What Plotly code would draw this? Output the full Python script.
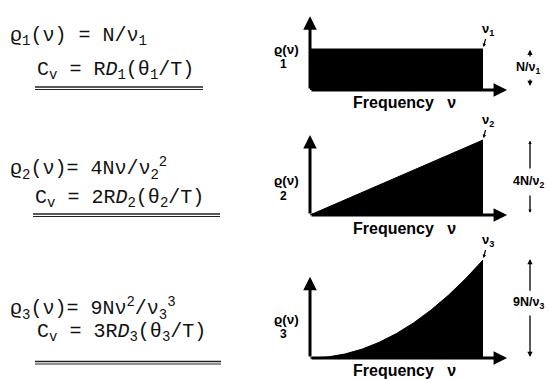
import plotly.graph_objects as go

W, H = 549, 379

# ---------------- data ----------------
freq1 = [0.0, 1.0]
rho1 = [1.0, 1.0]
freq2 = [0.0, 1.0]
rho2 = [0.0, 1.0]
freq3 = [0.0, 0.1, 0.2, 0.3, 0.4, 0.5, 0.6, 0.7, 0.8, 0.9, 1.0]
rho3 = [0.0, 0.01, 0.04, 0.09, 0.16, 0.25, 0.36, 0.49, 0.64, 0.81, 1.0]

eq_rho = ["ϱ<sub>1</sub>(ν) = N/ν<sub>1</sub>",
          "ϱ<sub>2</sub>(ν)= 4Nν/ν<sub>2</sub><sup>2</sup>",
          "ϱ<sub>3</sub>(ν)= 9Nν<sup>2</sup>/ν<sub>3</sub><sup>3</sup>"]
eq_cv = ["C<sub>v</sub> = R<i>D</i><sub>1</sub>(θ<sub>1</sub>/T)",
         "C<sub>v</sub> = 2R<i>D</i><sub>2</sub>(θ<sub>2</sub>/T)",
         "C<sub>v</sub> = 3R<i>D</i><sub>3</sub>(θ<sub>3</sub>/T)"]
cutoff_labels = ["ν<sub>1</sub>", "ν<sub>2</sub>", "ν<sub>3</sub>"]
height_labels = ["N/ν<sub>1</sub>", "4N/ν<sub>2</sub>", "9N/ν<sub>3</sub>"]
subs = ["1", "2", "3"]
xlabel = "Frequency   ν"

# ---------------- layout helpers ----------------
def py(ypx):
    return (H - ypx) / H

def px(xpx):
    return xpx / W

X0PX, UX = 310, 173.0  # pixel of frequency 0, px per unit
XDOM_PX = (270, 549)
xrange_ = [(XDOM_PX[0] - X0PX) / UX, (XDOM_PX[1] - X0PX) / UX]

panels = [
    dict(base=90, u=41.0, top=10, bot=110, ytop=1.80, eq1=36, eq2=70, ul=(87, 89.5), ulx=(35, 203),
         xl=102, rl=49, rs=64),
    dict(base=215, u=75.0, top=120, bot=240, ytop=1.067, eq1=168, eq2=198, ul=(214, 216.5), ulx=(33, 220),
         xl=228, rl=181, rs=196),
    dict(base=358, u=98.0, top=245, bot=379, ytop=0.83, eq1=308, eq2=332, ul=(361.5, 364), ulx=(35, 221),
         xl=370, rl=319, rs=334),
]

fig = go.Figure()
series = [(freq1, rho1), (freq2, rho2), (freq3, rho3)]
annotations = []
shapes = []
EQFONT = dict(family="Liberation Mono, DejaVu Sans Mono, monospace", size=20, color="#111")
SANS = "Liberation Sans, Arial, sans-serif"
LBFONT = dict(family=SANS, size=16, color="#000")

for i, (p, (fx, fy)) in enumerate(zip(panels, series)):
    k = i + 1
    xa = "x" if k == 1 else f"x{k}"
    ya = "y" if k == 1 else f"y{k}"
    fig.add_trace(go.Scatter(x=fx, y=fy, mode="lines", fill="tozeroy",
                             line=dict(color="black", width=1), fillcolor="black",
                             xaxis=xa, yaxis=ya, showlegend=False, hoverinfo="skip"))
    yr = [-(p["bot"] - p["base"]) / p["u"], (p["base"] - p["top"]) / p["u"]]
    common = dict(showgrid=False, zeroline=False, showticklabels=False, ticks="", showline=False)
    fig.update_layout({
        ("xaxis" if k == 1 else f"xaxis{k}"): dict(domain=[px(XDOM_PX[0]), 1], range=xrange_,
                                                    anchor=ya, **common),
        ("yaxis" if k == 1 else f"yaxis{k}"): dict(domain=[py(p["bot"]), py(p["top"])], range=yr,
                                                    anchor=xa, **common),
    })
    # axes arrows
    annotations.append(dict(x=0, y=p["ytop"], ax=0, ay=0, xref=xa, yref=ya, axref=xa, ayref=ya,
                            text="", showarrow=True, arrowhead=2, arrowsize=0.9, arrowwidth=3,
                            arrowcolor="black", standoff=0, startstandoff=0))
    annotations.append(dict(x=1.139, y=0, ax=0, ay=0, xref=xa, yref=ya, axref=xa, ayref=ya,
                            text="", showarrow=True, arrowhead=2, arrowsize=0.9, arrowwidth=3,
                            arrowcolor="black", standoff=0, startstandoff=0))
    # cutoff frequency marker
    annotations.append(dict(x=fx[-1], y=fy[-1], xref=xa, yref=ya, text="<b>" + cutoff_labels[i] + "</b>",
                            showarrow=True, arrowhead=2, arrowsize=0.6, arrowwidth=1.2, arrowcolor="black",
                            ax=5, ay=-20, standoff=2, font=dict(family=SANS, size=13, color="black")))
    # height label
    xr = (530 - X0PX) / UX
    annotations.append(dict(x=(528 - X0PX) / UX, y=0.53 if i == 0 else (0.44 if i == 1 else 0.56), xref=xa, yref=ya,
                            text="<b>" + height_labels[i] + "</b>", showarrow=False,
                            font=dict(family=SANS, size=12.5, color="black"),
                            xanchor="center", yanchor="middle"))
    if i == 0:
        segs = [(0.98, 0.78), (0.10, 0.29)]
    elif i == 1:
        segs = [(0.99, 0.60), (0.03, 0.28)]
    else:
        segs = [(1.01, 0.67), (0.01, 0.45)]
    for tip, tail in segs:
        annotations.append(dict(x=xr, y=tip, ax=xr, ay=tail, xref=xa, yref=ya, axref=xa, ayref=ya,
                                text="", showarrow=True, arrowhead=2, arrowsize=0.8 if i != 1 else 0.5,
                                arrowwidth=1.3, arrowcolor="black", standoff=0, startstandoff=0))
    # x label
    annotations.append(dict(x=px(404), y=py(p["xl"]), xref="paper", yref="paper", text="<b>" + xlabel + "</b>",
                            showarrow=False, font=LBFONT, xanchor="center", yanchor="middle"))
    # rho label
    annotations.append(dict(x=px(286), y=py(p["rl"]), xref="paper", yref="paper", text="<b>ϱ(ν)</b>",
                            showarrow=False, font=dict(family=SANS, size=13.5, color="black"),
                            xanchor="center", yanchor="middle"))
    annotations.append(dict(x=px(283), y=py(p["rs"]), xref="paper", yref="paper", text="<b>" + subs[i] + "</b>",
                            showarrow=False, font=dict(family=SANS, size=12, color="black"),
                            xanchor="center", yanchor="middle"))
    # equations
    annotations.append(dict(x=px(8), y=py(p["eq1"]), xref="paper", yref="paper", text=eq_rho[i],
                            showarrow=False, font=EQFONT, xanchor="left", yanchor="middle"))
    annotations.append(dict(x=px(p["ulx"][0]), y=py(p["eq2"]), xref="paper", yref="paper", text=eq_cv[i],
                            showarrow=False, font=EQFONT, xanchor="left", yanchor="middle"))
    for j, uy in enumerate(p["ul"]):
        shapes.append(dict(type="line", xref="paper", yref="paper", x0=px(p["ulx"][0]), x1=px(p["ulx"][1]),
                           y0=py(uy), y1=py(uy), line=dict(color="#222", width=1.6 if j == 0 else 1.1)))

fig.update_layout(width=W, height=H, margin=dict(l=0, r=0, t=0, b=0),
                  paper_bgcolor="white", plot_bgcolor="white",
                  annotations=annotations, shapes=shapes, showlegend=False)
fig.write_html("out.html", config={"displayModeBar": False},
               post_script="document.body.style.margin='0px';document.body.style.overflow='hidden';")
